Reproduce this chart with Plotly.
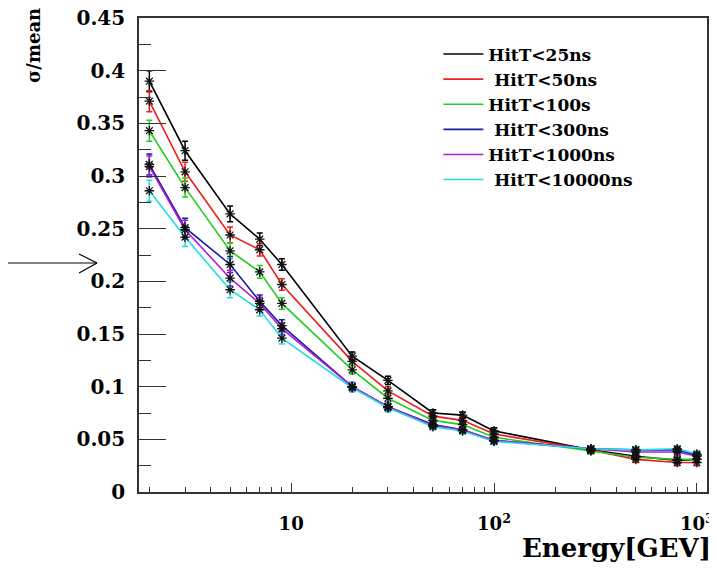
import plotly.graph_objects as go

energy = [2, 3, 5, 7, 9, 20, 30, 50, 70, 100, 300, 500, 800, 1000]

hit25 = [0.390, 0.324, 0.264, 0.240, 0.216, 0.129, 0.106, 0.075, 0.073, 0.058, 0.040, 0.034, 0.030, 0.031]
hit50 = [0.371, 0.304, 0.244, 0.230, 0.197, 0.124, 0.096, 0.072, 0.068, 0.055, 0.040, 0.031, 0.028, 0.028]
hit100 = [0.343, 0.289, 0.229, 0.209, 0.179, 0.116, 0.089, 0.068, 0.064, 0.052, 0.039, 0.033, 0.031, 0.031]
hit300 = [0.311, 0.251, 0.216, 0.181, 0.158, 0.100, 0.081, 0.064, 0.059, 0.049, 0.041, 0.040, 0.040, 0.035]
hit1000 = [0.309, 0.249, 0.203, 0.179, 0.155, 0.100, 0.081, 0.063, 0.059, 0.049, 0.041, 0.038, 0.038, 0.034]
hit10000 = [0.286, 0.242, 0.192, 0.173, 0.146, 0.099, 0.080, 0.062, 0.058, 0.048, 0.041, 0.040, 0.041, 0.036]

errors = [0.010, 0.009, 0.0075, 0.006, 0.0055, 0.004, 0.004, 0.003, 0.003, 0.003, 0.003, 0.003, 0.003, 0.003]

series_names = ["HitT&lt;25ns", "\u00a0HitT&lt;50ns", "HitT&lt;100s", "\u00a0HitT&lt;300ns",
                "HitT&lt;1000ns", "\u00a0HitT&lt;10000ns"]
series_values = [hit25, hit50, hit100, hit300, hit1000, hit10000]
series_colors = ["#000000", "#ee1c1c", "#22cc22", "#1a1aaa", "#b01cd8", "#22dddd"]

y_tickvals = [0, 0.05, 0.1, 0.15, 0.2, 0.25, 0.3, 0.35, 0.4, 0.45]
y_ticktext = ["0", "0.05", "0.1", "0.15", "0.2", "0.25", "0.3", "0.35", "0.4", "0.45"]
x_tickvals = [10, 100, 1000]
x_ticktext = ["10", "10<sup>2</sup>", "10<sup>3</sup>"]
x_minor = [2, 3, 4, 5, 6, 7, 8, 9, 20, 30, 40, 50, 60, 70, 80, 90, 200, 300, 400, 500, 600, 700, 800, 900]

FONT = "DejaVu Serif"

fig = go.Figure()
for i, (name, vals, col) in enumerate(zip(series_names, series_values, series_colors)):
    fig.add_trace(go.Scatter(
        x=energy, y=vals, mode="lines", name=name, legendgroup=f"g{i}",
        line=dict(color=col, width=1.6),
        error_y=dict(type="data", array=errors, color=col, thickness=1.5, width=3),
    ))
for i, (vals, col) in enumerate(zip(series_values, series_colors)):
    fig.add_trace(go.Scatter(
        x=energy, y=vals, mode="markers", showlegend=False, legendgroup=f"g{i}",
        marker=dict(symbol="asterisk-open", size=8, color="#111111",
                    line=dict(color="#111111", width=1.3)),
        hoverinfo="skip",
    ))

axis_line = "#333333"
# the page body adds an 8px offset, so the figure is 8px smaller and margins shifted
fig.update_layout(
    width=709, height=561,
    margin=dict(l=131, r=10, t=10, b=77, autoexpand=False),
    paper_bgcolor="white", plot_bgcolor="white",
    font=dict(family=FONT, color="black"),
    showlegend=True,
    legend=dict(x=0.527, y=0.961, xanchor="left", yanchor="top",
                bgcolor="rgba(0,0,0,0)", borderwidth=0,
                font=dict(family=FONT, size=17, weight="bold"),
                traceorder="grouped", tracegroupgap=0, itemwidth=40),
    xaxis=dict(type="log", range=[0.25, 3.05], automargin=False,
               tickvals=x_tickvals, ticktext=x_ticktext,
               ticks="inside", ticklen=9, tickwidth=1.2, tickcolor=axis_line,
               minor=dict(tickvals=x_minor, ticks="inside", ticklen=5, tickwidth=1, tickcolor=axis_line),
               showline=True, linecolor=axis_line, linewidth=1.6, mirror=True,
               showgrid=False, zeroline=False,
               tickfont=dict(family=FONT, size=18, weight="bold"),
               ticklabelstandoff=15, ticklabeloverflow="allow"),
    yaxis=dict(range=[0, 0.45], automargin=False,
               tickvals=y_tickvals, ticktext=y_ticktext,
               ticks="inside", ticklen=27, tickwidth=1.2, tickcolor=axis_line,
               minor=dict(dtick=0.025, tick0=0, ticks="inside", ticklen=12, tickwidth=1, tickcolor=axis_line),
               showline=True, linecolor=axis_line, linewidth=1.6, mirror=True,
               showgrid=False, zeroline=False,
               tickfont=dict(family=FONT, size=20, weight="bold"),
               ticklabelstandoff=8, ticklabeloverflow="allow"),
)

fig.add_annotation(text="Energy[GEV]", xref="paper", yref="paper", x=1.01, y=-0.118,
                   xanchor="right", yanchor="middle", showarrow=False,
                   font=dict(family=FONT, size=26, weight="bold"))
fig.add_annotation(text="σ/mean", xref="paper", yref="paper", x=-0.187, y=1.026,
                   xanchor="center", yanchor="top", textangle=-90, showarrow=False,
                   font=dict(family=FONT, size=18, weight="bold"))

# arrow pointing at the axis
ay = 0.4831
fig.add_shape(type="line", xref="paper", yref="paper", x0=-0.2447, x1=-0.0739, y0=ay, y1=ay,
              line=dict(color="black", width=1.2))
fig.add_shape(type="line", xref="paper", yref="paper", x0=-0.1056, x1=-0.0739, y0=0.5021, y1=ay,
              line=dict(color="black", width=1.2))
fig.add_shape(type="line", xref="paper", yref="paper", x0=-0.1056, x1=-0.0739, y0=0.462, y1=ay,
              line=dict(color="black", width=1.2))

fig.write_html("out.html")
